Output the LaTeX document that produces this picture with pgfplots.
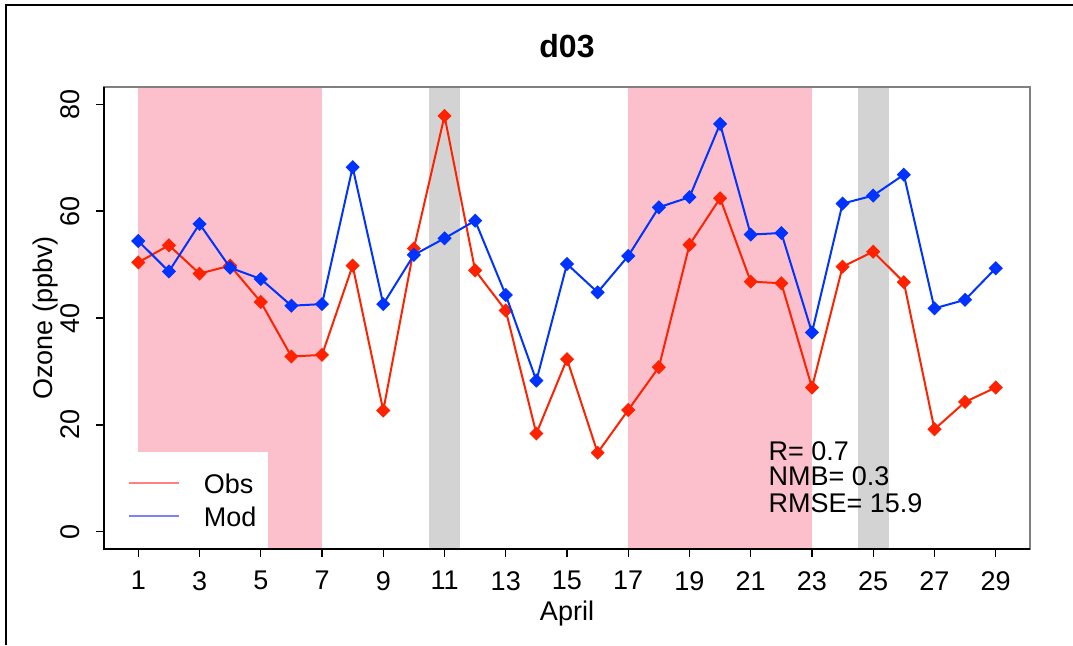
\documentclass[border=0pt]{standalone}
\usepackage{fontspec}
\setmainfont{Liberation Sans}
\usepackage{pgfplots}
\pgfplotsset{compat=1.18}
\definecolor{obsred}{RGB}{255,34,0}
\definecolor{modblue}{RGB}{0,51,255}
\definecolor{shpink}{RGB}{251,192,203}
\definecolor{shgray}{RGB}{211,211,211}
\definecolor{legred}{RGB}{255,128,128}
\definecolor{legblue}{RGB}{128,128,255}
\newcommand{\fs}{\fontsize{13.5}{16}\selectfont}

\begin{document}
\begin{tikzpicture}
\path[use as bounding box] (0,0) rectangle (536.5pt,322.5pt);
\draw[line width=1pt] (3pt,0pt) -- (3pt,320pt) -- (536.5pt,320pt);
\begin{axis}[
 name=ax,
 at={(52pt,48pt)}, anchor=south west,
 scale only axis, width=463pt, height=231pt,
 xmin=-0.12, xmax=30.12, ymin=-3.2, ymax=83.2,
 xtick={1,3,...,29}, ytick={0,20,40,60,80},
 tick align=outside, xtick pos=bottom, ytick pos=left,
 major tick length=4pt,
 tick style={black, line width=0.6pt},
 axis line style={draw=gray, line width=0.8pt},
 axis on top,
 clip mode=individual,
 /pgf/number format/assume math mode=true,
 ticklabel style={font=\fs},
 xticklabel style={anchor=north, inner sep=0pt, yshift=-7pt},
 yticklabel style={rotate=90, anchor=south, inner xsep=0pt, inner ysep=8pt},
 title={\textbf{d03}},
 title style={at={(axis description cs:0.5,1.063)}, anchor=center, font=\fontsize{16}{19}\selectfont},
 xlabel={April},
 xlabel style={at={(axis description cs:0.5,-0.1407)}, anchor=center, font=\fs},
 ylabel={Ozone (ppbv)},
 ylabel style={at={(axis description cs:-0.0627,0.5)}, anchor=center, font=\fs},
 legend style={at={(axis description cs:0.0259,0.1639)}, anchor=north west, draw=none, fill=none,
   inner sep=0pt, outer sep=0pt, row sep=3.7pt, font=\fs,
   nodes={inner sep=0pt, text height=10pt, text depth=3pt},
   /tikz/every odd column/.append style={column sep=12pt}},
 legend cell align=left,
 legend image code/.code={\draw[#1] (0pt,1.7pt) -- (25pt,1.7pt);},
]
% shaded periods
\addplot[fill=shpink, draw=none, forget plot] coordinates {(1,-10) (1,100) (7,100) (7,-10)};
\addplot[fill=shpink, draw=none, forget plot] coordinates {(17,-10) (17,100) (23,100) (23,-10)};
\addplot[fill=shgray, draw=none, forget plot] coordinates {(10.5,-10) (10.5,100) (11.5,100) (11.5,-10)};
\addplot[fill=shgray, draw=none, forget plot] coordinates {(24.5,-10) (24.5,100) (25.5,100) (25.5,-10)};
% legend background
\addplot[fill=white, draw=none, forget plot] coordinates {(-1,-10) (-1,14.9) (5.22,14.9) (5.22,-10)};

\addplot[obsred, line width=1pt, mark=square*, mark size=2pt, mark options={rotate=45, solid}, forget plot] coordinates {
(1,50.4) (2,53.6) (3,48.3) (4,49.8) (5,43.0) (6,32.8) (7,33.1) (8,49.8) (9,22.7) (10,53.0)
(11,77.8) (12,48.9) (13,41.4) (14,18.4) (15,32.3) (16,14.8) (17,22.8) (18,30.8) (19,53.7) (20,62.4)
(21,46.8) (22,46.5) (23,27.0) (24,49.6) (25,52.4) (26,46.7) (27,19.2) (28,24.3) (29,27.0)};
\addplot[modblue, line width=1pt, mark=square*, mark size=2pt, mark options={rotate=45, solid}, forget plot] coordinates {
(1,54.4) (2,48.7) (3,57.6) (4,49.4) (5,47.3) (6,42.3) (7,42.6) (8,68.2) (9,42.6) (10,51.8)
(11,54.9) (12,58.2) (13,44.3) (14,28.3) (15,50.1) (16,44.8) (17,51.6) (18,60.7) (19,62.6) (20,76.3)
(21,55.6) (22,55.9) (23,37.3) (24,61.4) (25,62.9) (26,66.8) (27,41.8) (28,43.4) (29,49.3)};

\addlegendimage{legred, line width=1pt}
\addlegendentry{Obs}
\addlegendimage{legblue, line width=1pt}
\addlegendentry{Mod}

\node[anchor=base west, inner sep=0pt, font=\fs] at (axis cs:21.57,13.4) {R= 0.7};
\node[anchor=base west, inner sep=0pt, font=\fs] at (axis cs:21.57,8.7) {NMB= 0.3};
\node[anchor=base west, inner sep=0pt, font=\fs] at (axis cs:21.57,3.6) {RMSE= 15.9};
\end{axis}
\draw[black, line width=0.8pt] (ax.north west) -- (ax.south west) -- (ax.south east);
\end{tikzpicture}
\end{document}
